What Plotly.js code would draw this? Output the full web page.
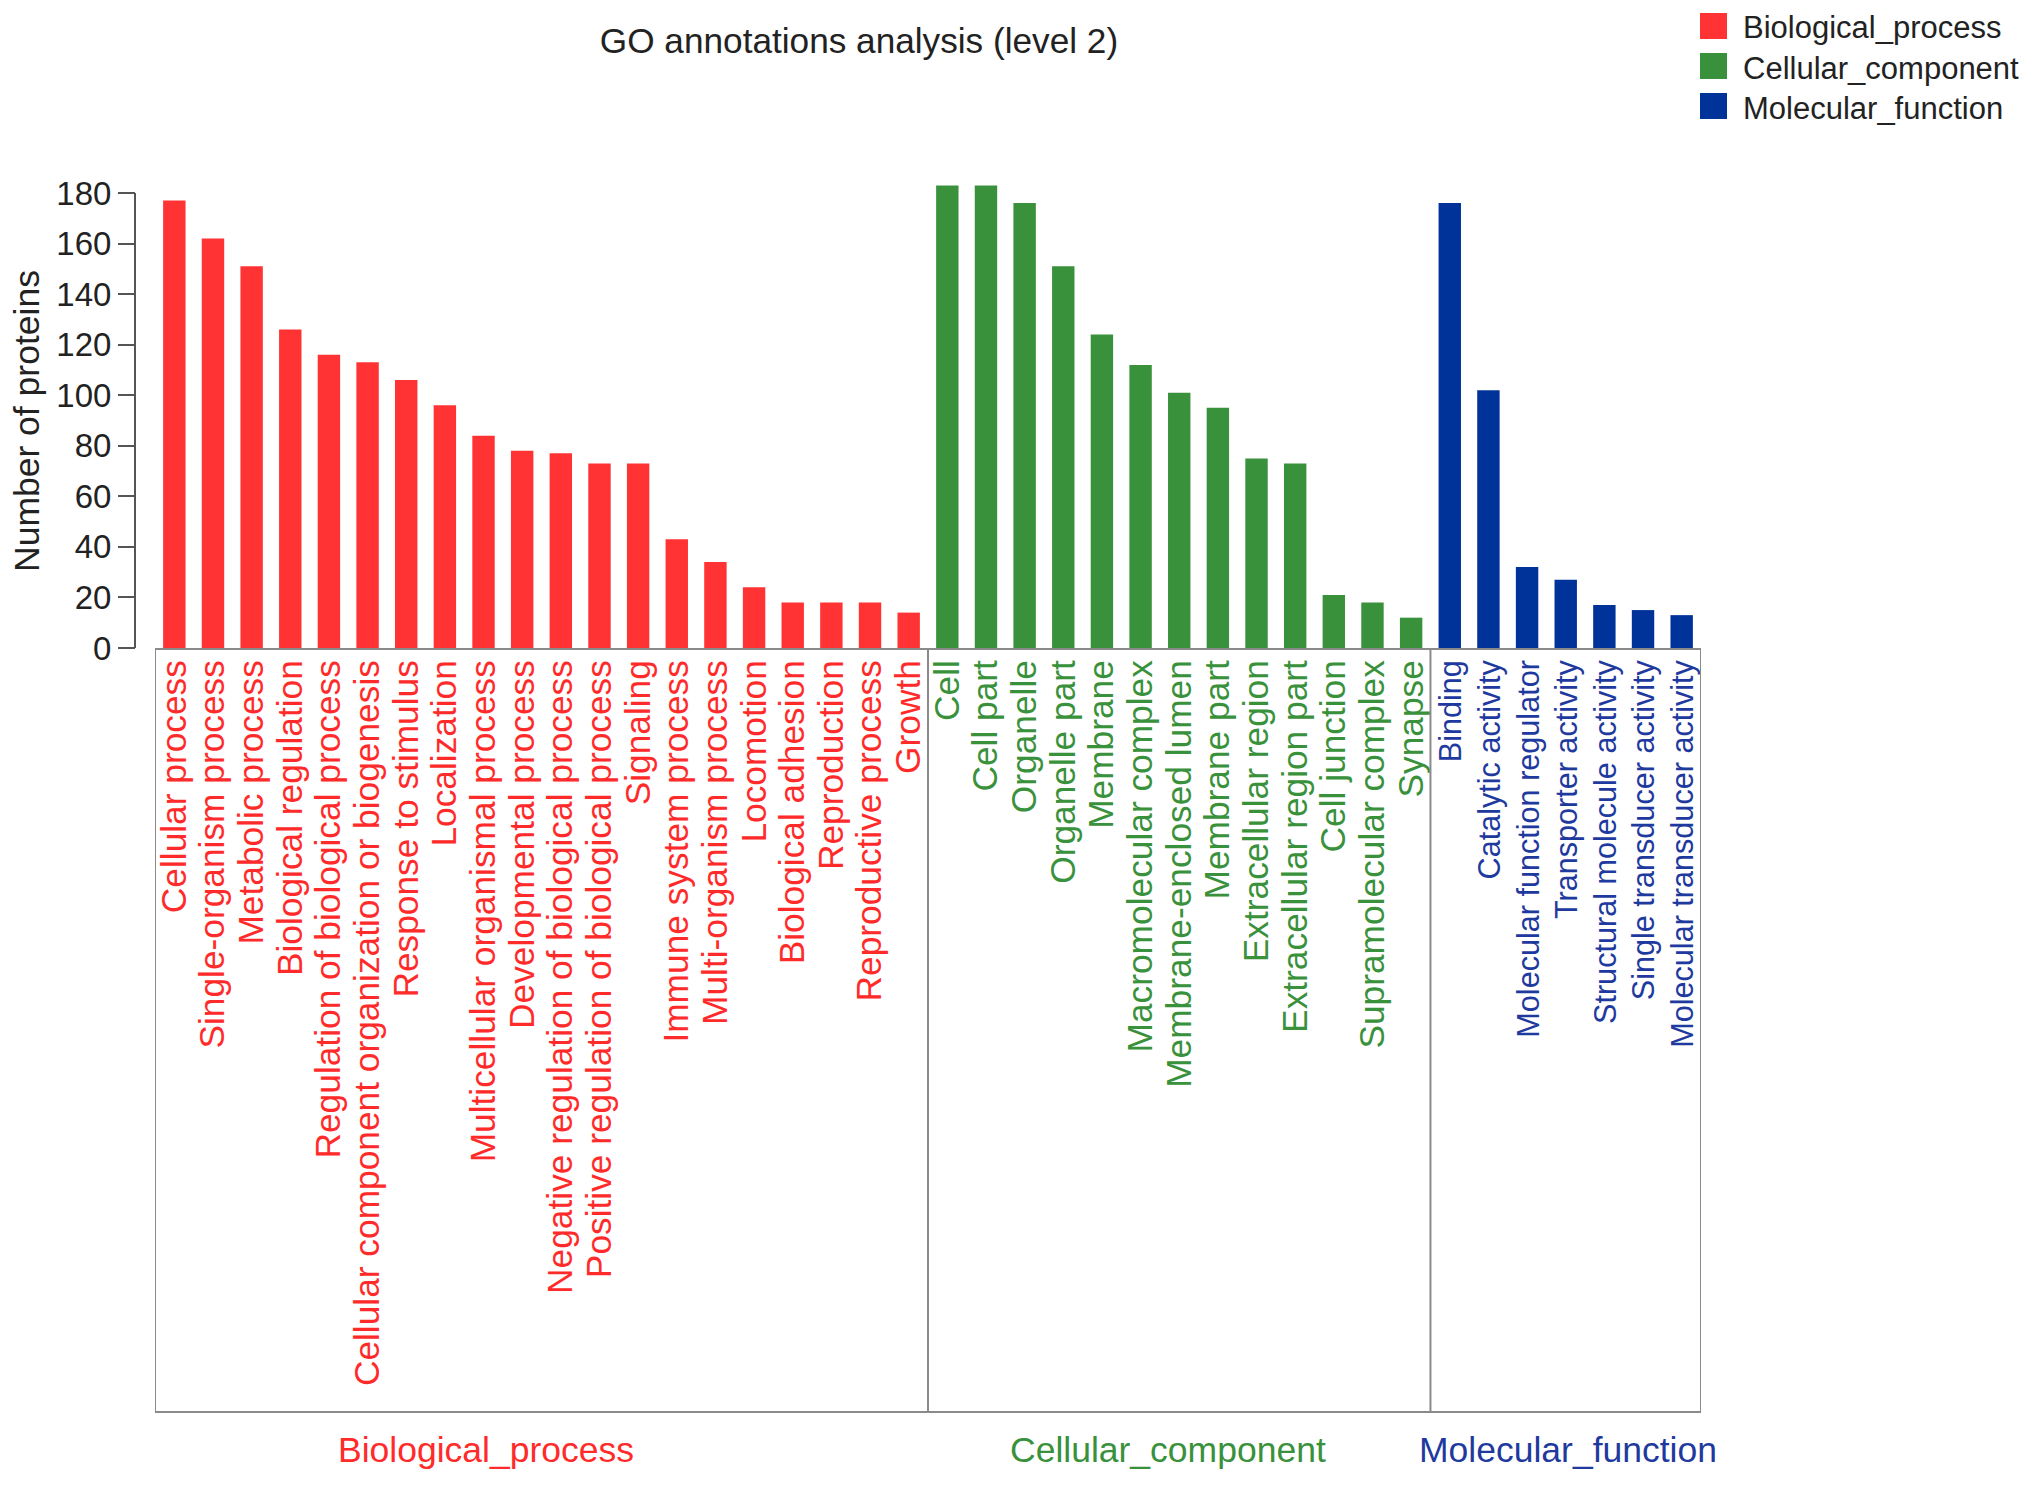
<!DOCTYPE html>
<html>
<head>
<meta charset="utf-8">
<script src="https://cdn.plot.ly/plotly-3.0.1.min.js"></script>
<style>html,body{margin:0;padding:0;background:#ffffff;}</style>
</head>
<body>
<div id="chart" style="width:2031px;height:1485px;"></div>
<script>
// ---------------- DATA ----------------
const bpCategories = [
  "Cellular process", "Single-organism process", "Metabolic process", "Biological regulation",
  "Regulation of biological process", "Cellular component organization or biogenesis",
  "Response to stimulus", "Localization", "Multicellular organismal process",
  "Developmental process", "Negative regulation of biological process",
  "Positive regulation of biological process", "Signaling", "Immune system process",
  "Multi-organism process", "Locomotion", "Biological adhesion", "Reproduction",
  "Reproductive process", "Growth"
];
const bpValues = [177, 162, 151, 126, 116, 113, 106, 96, 84, 78, 77, 73, 73, 43, 34, 24, 18, 18, 18, 14];

const ccCategories = [
  "Cell", "Cell part", "Organelle", "Organelle part", "Membrane", "Macromolecular complex",
  "Membrane-enclosed lumen", "Membrane part", "Extracellular region",
  "Extracellular region part", "Cell junction", "Supramolecular complex", "Synapse"
];
const ccValues = [183, 183, 176, 151, 124, 112, 101, 95, 75, 73, 21, 18, 12];

const mfCategories = [
  "Binding", "Catalytic activity", "Molecular function regulator", "Transporter activity",
  "Structural molecule activity", "Single transducer activity", "Molecular transducer activity"
];
const mfValues = [176, 102, 32, 27, 17, 15, 13];

const groupNames = ["Biological_process", "Cellular_component", "Molecular_function"];
const yTickValues = [0, 20, 40, 60, 80, 100, 120, 140, 160, 180];
const chartTitle = "GO annotations analysis (level 2)";
const yAxisTitle = "Number of proteins";

// ---------------- STYLE ----------------
const barColors = ["#FF3333", "#3A913C", "#003399"];
const labelColors = ["#FF2B2B", "#3A913C", "#1F3A9E"];
const labelSizes = [35.3, 35.3, 30.6];
const FONT = "Liberation Sans, Arial, Helvetica, sans-serif";

const W = 2031, H = 1485;
const M = {l: 135, r: 330, t: 168, b: 837};
const plotW = W - M.l - M.r;
const plotH = H - M.t - M.b;
const px2paperX = px => (px - M.l) / plotW;
const px2paperY = py => (H - M.b - py) / plotH;

const groups = [
  {cats: bpCategories, vals: bpValues},
  {cats: ccCategories, vals: ccValues},
  {cats: mfCategories, vals: mfValues}
];

const allCats = [].concat(bpCategories, ccCategories, mfCategories);
const tickText = [];
groups.forEach((g, gi) => g.cats.forEach(c => {
  tickText.push('<span style="color:' + labelColors[gi] + ';font-size:' + labelSizes[gi] + 'px">' + c + '</span>');
}));

const traces = groups.map((g, gi) => ({
  type: "bar",
  name: groupNames[gi],
  x: g.cats,
  y: g.vals,
  width: 0.58,
  marker: {color: barColors[gi], line: {width: 0}},
  showlegend: false,
  hoverinfo: "x+y"
}));

// group boundaries (category index)
const sep1 = bpCategories.length - 0.5;
const sep2 = bpCategories.length + ccCategories.length - 0.5;
const boxBottom = px2paperY(1412);
const lineColor = "#8a8a8a";

const shapes = [
  // y-axis line from 0 to 180
  {type: "line", xref: "paper", yref: "y", x0: 0, x1: 0, y0: 0, y1: yTickValues[yTickValues.length - 1],
   line: {color: "#555555", width: 2}},
  // label box
  {type: "line", xref: "x", yref: "paper", x0: -0.5, x1: -0.5, y0: boxBottom, y1: 0, line: {color: lineColor, width: 2}},
  {type: "line", xref: "x", yref: "paper", x0: allCats.length - 0.5, x1: allCats.length - 0.5, y0: boxBottom, y1: 0, line: {color: lineColor, width: 2}},
  {type: "line", xref: "x", yref: "paper", x0: -0.5, x1: allCats.length - 0.5, y0: boxBottom, y1: boxBottom, line: {color: lineColor, width: 2}},
  {type: "line", xref: "x", yref: "paper", x0: sep1, x1: sep1, y0: boxBottom, y1: 0, line: {color: lineColor, width: 2}},
  {type: "line", xref: "x", yref: "paper", x0: sep2, x1: sep2, y0: boxBottom, y1: 0, line: {color: lineColor, width: 2}}
];

// custom legend (squares + text)
const legendTop = [13, 53, 93];
const annotations = [];
groupNames.forEach((n, i) => {
  shapes.push({type: "rect", xref: "paper", yref: "paper",
    x0: px2paperX(1700), x1: px2paperX(1727),
    y0: px2paperY(legendTop[i] + 26), y1: px2paperY(legendTop[i]),
    fillcolor: barColors[i], line: {width: 0}});
  annotations.push({xref: "paper", yref: "paper", x: px2paperX(1741), y: px2paperY(legendTop[i] + 15),
    xanchor: "left", yanchor: "middle", showarrow: false, text: n,
    font: {family: FONT, size: 31, color: "#222222"}});
});

// group labels under the box
const groupLabelX = [486, 1168, 1568];
groupNames.forEach((n, i) => {
  annotations.push({xref: "paper", yref: "paper", x: px2paperX(groupLabelX[i]), y: px2paperY(1450),
    xanchor: "center", yanchor: "middle", showarrow: false, text: n,
    font: {family: FONT, size: 35.5, color: labelColors[i]}});
});

// y-axis title (placed centred on the 0-180 axis line)
annotations.push({xref: "paper", yref: "paper", x: px2paperX(27), y: px2paperY(421),
  xanchor: "center", yanchor: "middle", textangle: -90, showarrow: false, text: yAxisTitle,
  font: {family: FONT, size: 35.5, color: "#222222"}});

const layout = {
  width: W, height: H,
  autosize: false,
  margin: M,
  paper_bgcolor: "#ffffff",
  plot_bgcolor: "#ffffff",
  barmode: "overlay",
  font: {family: FONT, color: "#222222"},
  title: {
    text: chartTitle,
    font: {family: FONT, size: 35.2, color: "#222222"},
    xref: "container", yref: "container",
    x: 859 / W, xanchor: "center",
    y: 1 - 41 / H, yanchor: "middle"
  },
  xaxis: {
    type: "category",
    categoryorder: "array",
    categoryarray: allCats,
    tickmode: "array",
    tickvals: allCats,
    ticktext: tickText,
    tickangle: -90,
    tickfont: {family: FONT, size: 35.3},
    ticks: "",
    ticklabelstandoff: -4,
    range: [-0.5, allCats.length - 0.5],
    domain: [px2paperX(155), 1],
    showline: true,
    linecolor: lineColor,
    linewidth: 2,
    showgrid: false,
    zeroline: false,
    fixedrange: true
  },
  yaxis: {
    range: [0, plotH / ((648 - 193) / 180)],
    anchor: "free",
    position: 0,
    tickmode: "array",
    tickvals: yTickValues,
    ticks: "outside",
    ticklen: 17,
    tickwidth: 2,
    tickcolor: "#555555",
    tickfont: {family: FONT, size: 33, color: "#222222"},
    showline: false,
    showgrid: false,
    zeroline: false,
    fixedrange: true
  },
  shapes: shapes,
  annotations: annotations
};

Plotly.newPlot("chart", traces, layout, {displayModeBar: false, staticPlot: true});
</script>
</body>
</html>
